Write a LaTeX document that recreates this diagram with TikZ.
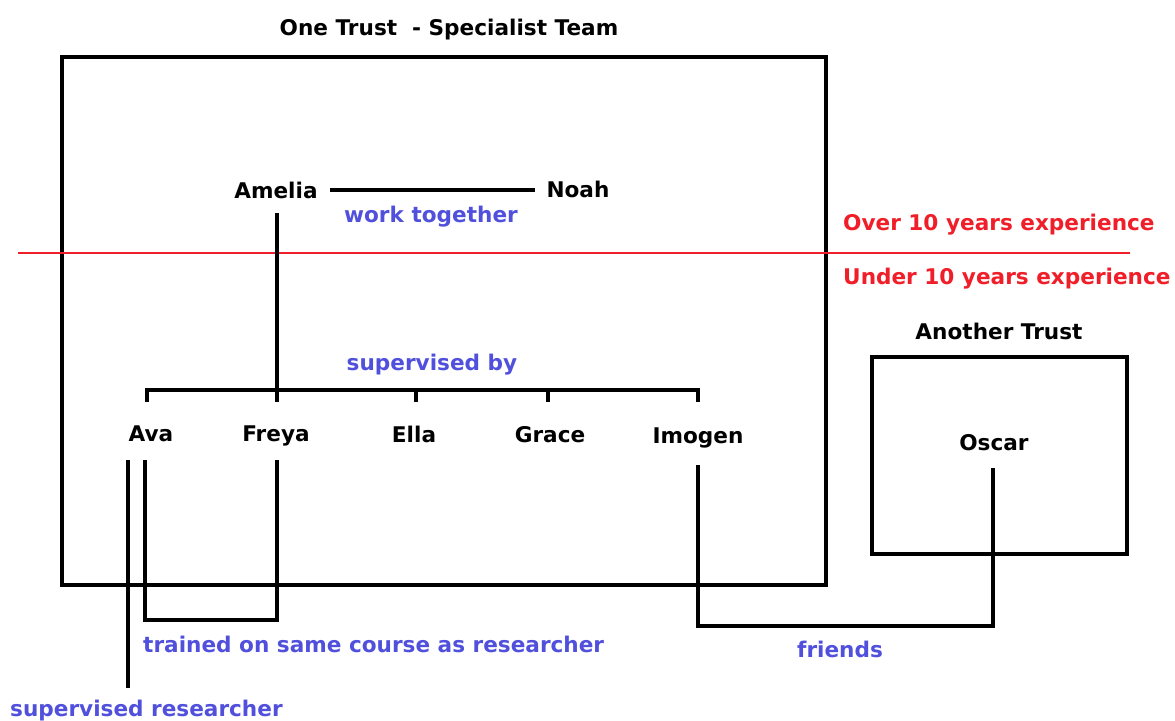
\documentclass[tikz,border=0pt]{standalone}
\usepackage{fontspec}
\setmainfont{DejaVu Sans}
\definecolor{lblue}{RGB}{80,80,220}
\definecolor{lred}{RGB}{240,30,40}
\begin{document}
\begin{tikzpicture}[x=1pt,y=-1pt,
  txtst/.style={inner sep=0pt,anchor=base,font=\fontsize{21.6}{24}\selectfont\bfseries},
  person/.style={txtst,text=black},
  relst/.style={txtst,text=lblue},
  expst/.style={txtst,text=lred,anchor=base west},
  conn/.style={line width=4pt,black,line cap=butt,line join=miter},
  framebox/.style={draw,line width=4pt,inner sep=0pt}]
\useasboundingbox (0,0) rectangle (1175,720);
% frames
\node[framebox,minimum width=764pt,minimum height=528pt] (team) at (444,321) {};
\node[framebox,minimum width=255pt,minimum height=197pt] (other) at (999.5,455.5) {};
% titles
\node[person] (title) at (449,35) {One Trust\ \ - Specialist Team};
\node[person] (another) at (999,339) {Another Trust};
% people
\node[person] (Amelia) at (276,198) {Amelia};
\node[person] (Noah) at (578,197) {Noah};
\node[person] (Ava) at (151,441) {Ava};
\node[person] (Freya) at (276,441) {Freya};
\node[person] (Ella) at (414,442) {Ella};
\node[person] (Grace) at (550,442) {Grace};
\node[person] (Imogen) at (698,443) {Imogen};
\node[person] (Oscar) at (994,450) {Oscar};
% relation labels
\node[relst] (wt) at (431,222) {work together};
\node[relst] (sb) at (432,370) {supervised by};
\node[relst,anchor=base west] (tr) at (143,652) {trained on same course as researcher};
\node[relst,anchor=base west] (sr) at (10,716) {supervised researcher};
\node[relst] (fr) at (840,657) {friends};
% experience
\node[expst] (over) at (843,230) {Over 10 years experience};
\node[expst] (under) at (843,284) {Under 10 years experience};
\coordinate (redL) at (18,253);
\coordinate (redR) at (1130,253);
\draw[lred,line width=1.5pt] (redL) -- (redR);
% connectors
\draw[conn] (330,0 |- Amelia) -- (535,0 |- Amelia);
\coordinate (bar) at (277,390);
\draw[conn] (277,213) -- (277,402);
\draw[conn] (147,402) -- (147,390) -- (698,390) -- (698,402);
\draw[conn] (416,390) -- (416,402);
\draw[conn] (548,390) -- (548,402);
\coordinate (srEnd) at (128,688);
\draw[conn] (128,460) -- (srEnd);
\draw[conn] (145,460) -- (145,620) -- (277,620) -- (277,460);
\draw[conn] (698,465) -- (698,626) -- (993,626) -- (993,468);
\end{tikzpicture}
\end{document}
